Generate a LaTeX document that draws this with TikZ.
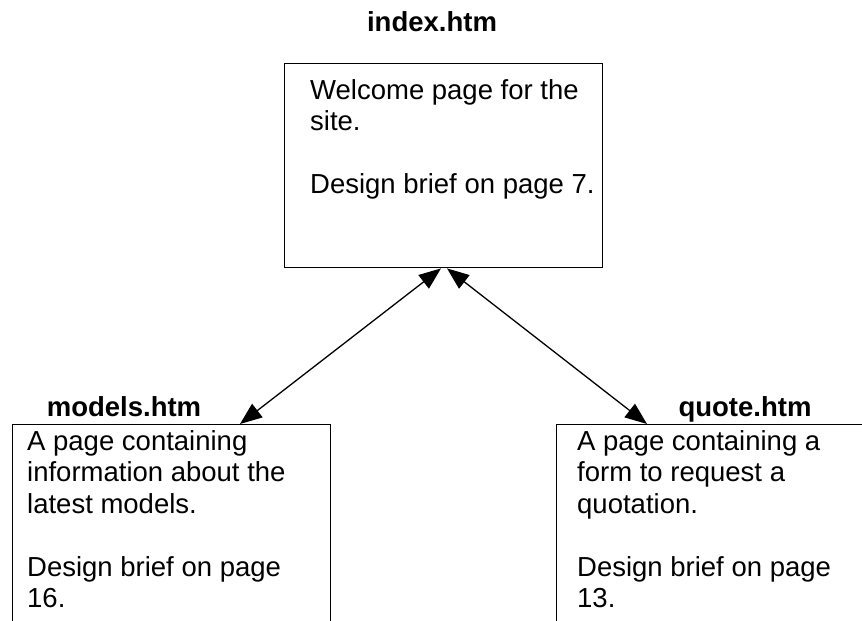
\documentclass[tikz,border=0pt]{standalone}
\usepackage{fontspec}
\setmainfont{Liberation Sans}
\usetikzlibrary{arrows.meta}
\tikzset{
  page/.style={draw, line width=1.4pt, rectangle, inner sep=0pt, anchor=north west},
  body/.style={anchor=north west, inner sep=0pt, align=left,
    font=\fontsize{27.5}{31.5}\selectfont},
  title/.style={anchor=base, inner sep=0pt,
    font=\fontsize{27.5}{31.5}\selectfont\bfseries},
  tip/.style={Triangle[length=22pt,width=17pt]},
  link/.style={line width=1.3pt, {Triangle[length=22pt,width=17pt]}-{Triangle[length=22pt,width=17pt]}}
}
\begin{document}
\begin{tikzpicture}[x=1pt,y=-1pt]
  \useasboundingbox (0,0) rectangle (862,621);
  \clip (0,0) rectangle (862,621);
  % page boxes (the lower two run off the bottom and right edges)
  \node[page, minimum width=318pt, minimum height=204pt] (index) at (284,63) {};
  \node[page, minimum width=318pt, minimum height=230pt] (models) at (12,424) {};
  \node[page, minimum width=330pt, minimum height=230pt] (quote) at (556,424) {};
  % titles
  \node[title] (tindex) at (432,31) {index.htm};
  \node[title] (tmodels) at (124,416) {models.htm};
  \node[title] (tquote) at (745,416) {quote.htm};
  % descriptions; the top of each first-line strut sits 22pt above its baseline
  \node[body] (dindex) at (310,77) {\strut Welcome page for the\\site.\\[31.5pt]Design brief on page 7.};
  \node[body] (dmodels) at (27,428) {\strut A page containing\\information about the\\latest models.\\[31.5pt]Design brief on page\\16.};
  \node[body] (dquote) at (577,428) {\strut A page containing a\\form to request a\\quotation.\\[31.5pt]Design brief on page\\13.};
  % links between pages
  \draw[link] ([xshift=228pt]models.north west) -- ([xshift=157pt]index.south west);
  \draw[link] ([xshift=91pt]quote.north west) -- ([xshift=163pt]index.south west);
\end{tikzpicture}
\end{document}
